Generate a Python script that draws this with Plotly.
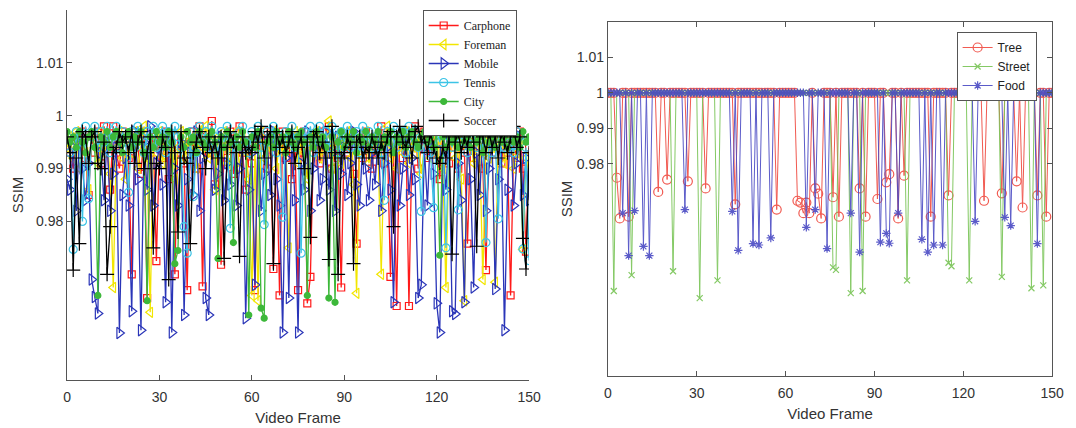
import plotly.graph_objects as go

frames = list(range(151))

carphone = [
    0.995, 0.993, 0.990, 0.996, 0.994, 0.997, 0.992, 0.985, 0.996, 0.993,
    0.997, 0.991, 0.998, 0.994, 0.986, 0.998, 0.993, 0.990, 0.997, 0.995,
    0.992, 0.970, 0.996, 0.994, 0.989, 0.997, 0.9655, 0.993, 0.996, 0.9725,
    0.995, 0.992, 0.997, 0.988, 0.994, 0.970, 0.996, 0.993, 0.991, 0.967,
    0.995, 0.997, 0.990, 0.998, 0.9677, 0.996, 0.993, 0.999, 0.987, 0.994,
    0.9718, 0.995, 0.992, 0.997, 0.989, 0.994, 0.998, 0.993, 0.986, 0.995,
    0.991, 0.967, 0.996, 0.993, 0.997, 0.990, 0.995, 0.971, 0.994, 0.966,
    0.997, 0.992, 0.995, 0.988, 0.996, 0.967, 0.993, 0.997, 0.9645, 0.9695,
    0.994, 0.996, 0.991, 0.997, 0.993, 0.998, 0.990, 0.995, 0.992, 0.9675,
    0.996, 0.993, 0.997, 0.989, 0.9758, 0.995, 0.992, 0.997, 0.994, 0.990,
    0.996, 0.993, 0.998, 0.991, 0.995, 0.9695, 0.993, 0.964, 0.996, 0.992,
    0.997, 0.964, 0.995, 0.998, 0.990, 0.994, 0.997, 0.992, 0.996, 0.993,
    0.995, 0.988, 0.997, 0.993, 0.991, 0.996, 0.994, 0.990, 0.997, 0.993,
    0.9758, 0.995, 0.992, 0.997, 0.994, 0.990, 0.9708, 0.996, 0.993, 0.998,
    0.995, 0.991, 0.996, 0.993, 0.966, 0.995, 0.992, 0.997, 0.990, 0.9743,
    0.994,
]

foreman = [
    0.994, 0.996, 0.992, 0.997, 0.990, 0.995, 0.993, 0.986, 0.996, 0.994,
    0.991, 0.997, 0.993, 0.995, 0.989, 0.9675, 0.994, 0.997, 0.992, 0.988,
    0.995, 0.993, 0.997, 0.990, 0.994, 0.998, 0.992, 0.9628, 0.995, 0.993,
    0.997, 0.991, 0.995, 0.993, 0.996, 0.988, 0.994, 0.997, 0.992, 0.995,
    0.993, 0.996, 0.990, 0.997, 0.994, 0.998, 0.992, 0.995, 0.986, 0.996,
    0.993, 0.997, 0.991, 0.995, 0.994, 0.997, 0.990, 0.996, 0.993, 0.988,
    0.966, 0.994, 0.965, 0.997, 0.992, 0.995, 0.993, 0.997, 0.990, 0.995,
    0.993, 0.996, 0.975, 0.994, 0.997, 0.991, 0.995, 0.993, 0.988, 0.996,
    0.994, 0.997, 0.992, 0.995, 0.993, 0.999, 0.990, 0.996, 0.994, 0.991,
    0.995, 0.997, 0.992, 0.987, 0.9664, 0.995, 0.993, 0.997, 0.991, 0.994,
    0.996, 0.993, 0.970, 0.995, 0.998, 0.992, 0.994, 0.990, 0.996, 0.993,
    0.997, 0.991, 0.995, 0.993, 0.996, 0.989, 0.994, 0.997, 0.992, 0.995,
    0.993, 0.996, 0.990, 0.9675, 0.994, 0.997, 0.992, 0.995, 0.988, 0.965,
    0.994, 0.996, 0.991, 0.995, 0.993, 0.969, 0.996, 0.992, 0.994, 0.9685,
    0.995, 0.997, 0.991, 0.994, 0.996, 0.990, 0.993, 0.995, 0.9747, 0.992,
    0.989,
]

mobile = [
    0.988, 0.986, 0.994, 0.982, 0.996, 0.990, 0.984, 0.991, 0.969, 0.9657,
    0.9626, 0.993, 0.984, 0.996, 0.982, 0.989, 0.994, 0.9589, 0.985, 0.992,
    0.983, 0.963, 0.997, 0.988, 0.9594, 0.995, 0.986, 0.998, 0.983, 0.991,
    0.994, 0.987, 0.9647, 0.996, 0.959, 0.990, 0.983, 0.995, 0.9623, 0.988,
    0.993, 0.985, 0.997, 0.982, 0.992, 0.9655, 0.9623, 0.994, 0.986, 0.989,
    0.996, 0.984, 0.991, 0.987, 0.995, 0.983, 0.990, 0.994, 0.9617, 0.986,
    0.993, 0.968, 0.996, 0.982, 0.989, 0.995, 0.985, 0.997, 0.988, 0.983,
    0.959, 0.992, 0.9655, 0.996, 0.984, 0.959, 0.991, 0.986, 0.997, 0.982,
    0.990, 0.995, 0.984, 0.988, 0.997, 0.986, 0.993, 0.982, 0.996, 0.989,
    0.994, 0.985, 0.991, 0.997, 0.987, 0.983, 0.995, 0.990, 0.984, 0.993,
    0.987, 0.996, 0.982, 0.991, 0.994, 0.986, 0.9647, 0.995, 0.983, 0.990,
    0.996, 0.985, 0.992, 0.988, 0.9655, 0.968, 0.994, 0.983, 0.997, 0.989,
    0.9645, 0.959, 0.993, 0.986, 0.996, 0.963, 0.9625, 0.991, 0.984, 0.9647,
    0.995, 0.988, 0.9675, 0.993, 0.985, 0.997, 0.982, 0.990, 0.995, 0.9672,
    0.988, 0.994, 0.9594, 0.986, 0.998, 0.983, 0.991, 0.996, 0.985, 0.992,
    0.984,
]

tennis = [
    0.996, 0.993, 0.9747, 0.997, 0.995, 0.980, 0.998, 0.9843, 0.996, 0.998,
    0.994, 0.997, 0.995, 0.998, 0.993, 0.996, 0.998, 0.994, 0.997, 0.995,
    0.9855, 0.997, 0.994, 0.998, 0.996, 0.993, 0.997, 0.995, 0.998, 0.994,
    0.996, 0.998, 0.993, 0.997, 0.995, 0.998, 0.996, 0.994, 0.979, 0.974,
    0.997, 0.9847, 0.993, 0.998, 0.995, 0.997, 0.994, 0.998, 0.996, 0.993,
    0.997, 0.995, 0.998, 0.9787, 0.996, 0.994, 0.997, 0.998, 0.995, 0.993,
    0.997, 0.996, 0.998, 0.994, 0.9794, 0.997, 0.995, 0.998, 0.993, 0.996,
    0.9808, 0.997, 0.995, 0.998, 0.994, 0.996, 0.974, 0.997, 0.995, 0.998,
    0.993, 0.996, 0.998, 0.995, 0.997, 0.994, 0.998, 0.996, 0.993, 0.997,
    0.995, 0.998, 0.994, 0.996, 0.997, 0.993, 0.998, 0.995, 0.997, 0.994,
    0.996, 0.998, 0.993, 0.984, 0.997, 0.995, 0.998, 0.994, 0.996, 0.997,
    0.993, 0.998, 0.995, 0.997, 0.994, 0.9819, 0.996, 0.998, 0.993, 0.9826,
    0.997, 0.995, 0.998, 0.975, 0.996, 0.994, 0.997, 0.9822, 0.995, 0.998,
    0.993, 0.996, 0.997, 0.994, 0.998, 0.995, 0.976, 0.997, 0.993, 0.996,
    0.9805, 0.997, 0.994, 0.998, 0.995, 0.993, 0.997, 0.996, 0.9748, 0.994,
    0.9726,
]

city = [
    0.997, 0.995, 0.996, 0.994, 0.997, 0.995, 0.993, 0.996, 0.997, 0.994,
    0.966, 0.996, 0.995, 0.997, 0.994, 0.996, 0.997, 0.995, 0.993, 0.996,
    0.997, 0.994, 0.996, 0.995, 0.997, 0.993, 0.965, 0.996, 0.994, 0.997,
    0.995, 0.996, 0.994, 0.997, 0.995, 0.972, 0.9745, 0.996, 0.994, 0.997,
    0.995, 0.996, 0.993, 0.997, 0.995, 0.994, 0.996, 0.997, 0.995, 0.973,
    0.996, 0.994, 0.997, 0.995, 0.976, 0.996, 0.994, 0.997, 0.995, 0.9623,
    0.996, 0.994, 0.997, 0.9636, 0.9617, 0.995, 0.996, 0.994, 0.997, 0.995,
    0.996, 0.993, 0.997, 0.995, 0.994, 0.996, 0.997, 0.995, 0.966, 0.996,
    0.994, 0.997, 0.995, 0.996, 0.994, 0.9655, 0.996, 0.9647, 0.995, 0.997,
    0.994, 0.996, 0.995, 0.997, 0.993, 0.996, 0.995, 0.997, 0.994, 0.996,
    0.995, 0.997, 0.994, 0.996, 0.995, 0.997, 0.993, 0.996, 0.995, 0.997,
    0.994, 0.996, 0.997, 0.995, 0.994, 0.996, 0.997, 0.995, 0.996, 0.994,
    0.997, 0.9736, 0.996, 0.994, 0.997, 0.995, 0.996, 0.994, 0.997, 0.995,
    0.996, 0.994, 0.997, 0.995, 0.996, 0.993, 0.997, 0.995, 0.996, 0.994,
    0.997, 0.995, 0.996, 0.994, 0.997, 0.995, 0.996, 0.994, 0.997, 0.995,
    0.996,
]

soccer = [
    0.996, 0.993, 0.9708, 0.992, 0.9758, 0.997, 0.996, 0.991, 0.996, 0.997,
    0.991, 0.990, 0.995, 0.970, 0.979, 0.993, 0.994, 0.997, 0.995, 0.996,
    0.993, 0.997, 0.991, 0.995, 0.997, 0.990, 0.993, 0.996, 0.975, 0.991,
    0.990, 0.996, 0.994, 0.969, 0.997, 0.993, 0.978, 0.997, 0.992, 0.991,
    0.9758, 0.993, 0.995, 0.997, 0.994, 0.990, 0.996, 0.993, 0.995, 0.992,
    0.996, 0.973, 0.994, 0.997, 0.995, 0.993, 0.9734, 0.996, 0.993, 0.994,
    0.993, 0.997, 0.995, 0.998, 0.992, 0.996, 0.997, 0.972, 0.997, 0.994,
    0.996, 0.993, 0.995, 0.997, 0.991, 0.994, 0.996, 0.990, 0.995, 0.977,
    0.996, 0.997, 0.993, 0.995, 0.992, 0.9728, 0.998, 0.993, 0.970, 0.992,
    0.993, 0.996, 0.994, 0.972, 0.995, 0.996, 0.992, 0.994, 0.993, 0.996,
    0.994, 0.992, 0.995, 0.993, 0.996, 0.997, 0.979, 0.996, 0.998, 0.995,
    0.994, 0.996, 0.992, 0.997, 0.998, 0.995, 0.996, 0.993, 0.997, 0.994,
    0.992, 0.991, 0.994, 0.992, 0.996, 0.9738, 0.995, 0.997, 0.993, 0.996,
    0.994, 0.998, 0.995, 0.9753, 0.997, 0.996, 0.993, 0.997, 0.994, 0.996,
    0.992, 0.997, 0.995, 0.993, 0.996, 0.998, 0.994, 0.996, 0.9768, 0.971,
    0.993,
]

tree = [
    1, 1, 1, 0.976, 0.9645, 1, 1, 0.965, 1, 1,
    1, 1, 1, 1, 1, 1, 1, 0.972, 1, 1,
    0.9755, 1, 1, 1, 1, 1, 1, 0.975, 1, 1,
    1, 1, 1, 0.973, 1, 1, 1, 1, 1, 1,
    1, 1, 1, 0.9685, 1, 1, 1, 1, 1, 1,
    1, 1, 1, 1, 1, 1, 1, 0.967, 1, 1,
    1, 1, 1, 1, 0.9695, 0.969, 0.966, 0.969, 0.966, 1,
    0.973, 0.9715, 0.9645, 1, 1, 1, 0.9705, 1, 0.965, 1,
    1, 1, 1, 1, 1, 0.973, 1, 0.965, 1, 1,
    1, 0.970, 1, 1, 0.9747, 0.977, 1, 1, 0.9645, 1,
    0.9766, 1, 1, 1, 1, 1, 1, 1, 1, 0.965,
    1, 1, 1, 1, 1, 0.971, 1, 1, 1, 1,
    1, 1, 1, 1, 1, 1, 1, 0.9695, 1, 1,
    1, 1, 1, 0.9716, 1, 1, 1, 1, 0.975, 1,
    0.9676, 1, 1, 1, 1, 0.971, 1, 1, 0.965, 1,
    1,
]

street = [
    1, 1, 0.944, 1, 1, 1, 1, 1, 0.9485, 1,
    1, 1, 1, 1, 1, 1, 1, 1, 1, 1,
    1, 1, 0.9496, 1, 1, 1, 1, 1, 1, 1,
    1, 0.942, 1, 1, 1, 1, 1, 0.947, 1, 1,
    1, 1, 1, 1, 1, 1, 1, 1, 1, 1,
    1, 1, 1, 1, 1, 1, 1, 1, 1, 1,
    1, 1, 1, 1, 1, 1, 1, 1, 1, 1,
    1, 1, 1, 1, 1, 1, 0.9507, 0.950, 1, 1,
    1, 1, 0.9434, 1, 1, 1, 0.944, 1, 1, 1,
    1, 1, 1, 1, 1, 1, 1, 1, 1, 1,
    1, 0.947, 1, 1, 1, 1, 1, 1, 1, 1,
    1, 1, 1, 1, 1, 0.952, 0.951, 1, 1, 1,
    1, 1, 0.947, 1, 1, 1, 1, 1, 1, 1,
    1, 1, 1, 0.948, 1, 1, 1, 1, 1, 1,
    1, 1, 1, 0.9448, 1, 1, 1, 0.9456, 1, 1,
    1,
]

food = [
    1, 1, 1, 1, 1, 0.966, 1, 0.954, 1, 0.9667,
    1, 1, 0.9566, 1, 0.954, 1, 1, 1, 1, 1,
    1, 1, 1, 1, 1, 1, 0.967, 1, 1, 1,
    1, 1, 1, 1, 1, 1, 1, 1, 1, 1,
    1, 1, 0.9665, 1, 0.9555, 1, 1, 1, 1, 0.9574,
    1, 0.957, 1, 1, 1, 0.959, 1, 1, 1, 1,
    1, 1, 1, 1, 1, 1, 1, 0.962, 1, 1,
    0.967, 1, 1, 1, 0.956, 1, 1, 1, 1, 1,
    1, 1, 0.966, 1, 1, 0.955, 1, 1, 1, 1,
    1, 1, 0.9578, 1, 0.9603, 0.9575, 1, 1, 0.966, 1,
    1, 1, 1, 1, 1, 1, 0.9586, 1, 0.955, 1,
    0.957, 1, 1, 0.957, 1, 1, 1, 1, 1, 1,
    1, 1, 1, 1, 0.9637, 1, 1, 1, 1, 1,
    1, 1, 1, 1, 0.9648, 1, 0.9625, 1, 1, 1,
    1, 1, 1, 1, 1, 0.9574, 1, 1, 1, 1,
    1,
]

x_ticks = [0, 30, 60, 90, 120, 150]
y_ticks = [0.98, 0.99, 1, 1.01]
y_tick_text = ["0.98", "0.99", "1", "1.01"]

W, H = 1076, 428
SANS = "Liberation Sans, Arial, sans-serif"
SERIF = "Liberation Serif, Times New Roman, serif"

fig = go.Figure()

left_series = [
    ("Carphone", carphone, "#ff1a1a", "square-open", 7),
    ("Foreman", foreman, "#f2e600", "triangle-left-open", 9),
    ("Mobile", mobile, "#2a35b8", "triangle-right-open", 10),
    ("Tennis", tennis, "#3cc4e6", "circle-open", 8),
    ("City", city, "#3db83a", "circle", 6),
    ("Soccer", soccer, "#000000", "cross-thin-open", 10),
]
for name, vals, col, sym, sz in left_series:
    fig.add_trace(go.Scatter(
        x=frames, y=vals, name=name, mode="lines+markers",
        line=dict(color=col, width=1.3),
        marker=dict(symbol=sym, size=sz, color=col, line=dict(color=col, width=1.2)),
        xaxis="x", yaxis="y", legend="legend",
    ))

right_series = [
    ("Tree", tree, "#f04a40", "circle-open", 9),
    ("Street", street, "#78c455", "x-thin-open", 6),
    ("Food", food, "#4a4ac4", "asterisk-open", 7),
]
for name, vals, col, sym, sz in right_series:
    fig.add_trace(go.Scatter(
        x=frames, y=vals, name=name, mode="lines+markers",
        line=dict(color=col, width=1),
        opacity=0.9,
        marker=dict(symbol=sym, size=sz, color=col, line=dict(color=col, width=1.2)),
        xaxis="x2", yaxis="y2", legend="legend2",
    ))

axis_common = dict(
    showgrid=False, zeroline=False, showline=True, linecolor="#555555", linewidth=1,
    ticks="inside", ticklen=5, tickcolor="#555555",
    tickfont=dict(family=SANS, size=14, color="#333333"),
)
title_font = dict(family=SANS, size=15, color="#333333")

fig.update_layout(
    width=W, height=H,
    margin=dict(l=0, r=0, t=0, b=0),
    paper_bgcolor="white", plot_bgcolor="white",
    xaxis=dict(domain=[64 / W, 533 / W], range=[0, 150], tickvals=x_ticks,
               anchor="y", mirror=False, ticklabelstandoff=4,
               title=dict(text="Video Frame", font=title_font, standoff=8),
               **axis_common),
    yaxis=dict(domain=[1 - 380 / H, 1 - 10 / H], range=[0.95, 1.02], tickvals=y_ticks,
               ticktext=y_tick_text, anchor="x", mirror=False,
               title=dict(text="SSIM", font=title_font, standoff=8),
               **axis_common),
    xaxis2=dict(domain=[613 / W, 1064 / W], range=[0, 150], tickvals=x_ticks,
                anchor="y2", mirror="ticks", ticklabelstandoff=4,
                title=dict(text="Video Frame", font=title_font, standoff=8),
                **axis_common),
    yaxis2=dict(domain=[1 - 376 / H, 1 - 22 / H], range=[0.92, 1.02], tickvals=y_ticks,
                ticktext=y_tick_text, anchor="x2", mirror="ticks",
                title=dict(text="SSIM", font=title_font, standoff=0),
                **axis_common),
    legend=dict(x=425 / W, y=1 - 10 / H, xanchor="left", yanchor="top",
                bgcolor="white", bordercolor="#555555", borderwidth=1,
                font=dict(family=SERIF, size=12, color="#222222"),
                tracegroupgap=0, itemwidth=30),
    legend2=dict(x=967 / W, y=1 - 32 / H, xanchor="left", yanchor="top",
                 bgcolor="white", bordercolor="#555555", borderwidth=1,
                 font=dict(family=SANS, size=12, color="#222222"),
                 tracegroupgap=0, itemwidth=30),
    showlegend=True,
)

fig.write_html("out.html")
